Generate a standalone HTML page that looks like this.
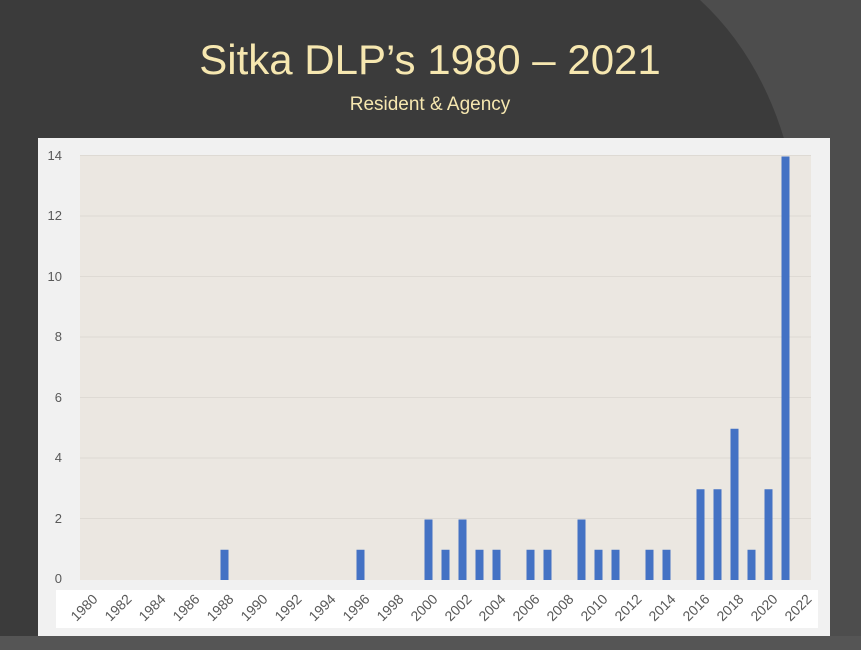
<!DOCTYPE html>
<html><head><meta charset="utf-8"><style>
body{margin:0;width:861px;height:650px;overflow:hidden;background:#3a3a3a;font-family:"Liberation Sans",sans-serif}
</style></head><body>
<svg width="861" height="650" xmlns="http://www.w3.org/2000/svg" style="position:absolute;left:0;top:0">
<rect width="861" height="650" fill="#3b3b3b"/>
<path d="M700,0 Q765,60 790,160 L815,650 L861,650 L861,0 Z" fill="#4d4d4d"/>
<rect x="0" y="636" width="861" height="14" fill="#555"/>
<text x="430" y="74" text-anchor="middle" font-family="Liberation Sans,sans-serif" font-size="42" fill="#f6e7b0">Sitka DLP’s 1980 – 2021</text>
<text x="430" y="110" text-anchor="middle" font-family="Liberation Sans,sans-serif" font-size="19" fill="#f6e7b0">Resident &amp; Agency</text>
<rect x="38" y="138" width="792" height="498" fill="#f1f1f1"/>
<rect x="80" y="155" width="731" height="425" fill="#ebe7e1"/>
<rect x="56" y="590" width="762" height="38" fill="#fff"/>
<g stroke="#dedad4" stroke-width="1">
<line x1="80" x2="811" y1="155.5" y2="155.5"/><line x1="80" x2="811" y1="216" y2="216"/><line x1="80" x2="811" y1="276.5" y2="276.5"/><line x1="80" x2="811" y1="337" y2="337"/><line x1="80" x2="811" y1="397.5" y2="397.5"/><line x1="80" x2="811" y1="458" y2="458"/><line x1="80" x2="811" y1="518.5" y2="518.5"/>
</g>
<g font-size="13" fill="#595959" text-anchor="end">
<text x="62" y="583">0</text><text x="62" y="523">2</text><text x="62" y="462">4</text><text x="62" y="402">6</text><text x="62" y="341">8</text><text x="62" y="281">10</text><text x="62" y="220">12</text><text x="62" y="160">14</text>
</g>
<g id="bars" fill="#4472c4"></g>
<g id="labs" font-size="14" fill="#595959"></g>
</svg>
<script>
var d={1988:1,1996:1,2000:2,2001:1,2002:2,2003:1,2004:1,2006:1,2007:1,2009:2,2010:1,2011:1,2013:1,2014:1,2016:3,2017:3,2018:5,2019:1,2020:3,2021:14};
var ns="http://www.w3.org/2000/svg",b=document.getElementById("bars"),l=document.getElementById("labs");
for(var y=1980;y<=2022;y++){var cx=88.5+(y-1980)*17;
if(d[y]){var r=document.createElementNS(ns,"rect");var h=d[y]*30.25;r.setAttribute("x",cx-4);r.setAttribute("width",8);r.setAttribute("y",580-h);r.setAttribute("height",h);b.appendChild(r);}
if(y%2==0){var t=document.createElementNS(ns,"text");t.setAttribute("text-anchor","end");t.setAttribute("transform","translate("+(cx+10)+",600) rotate(-45)");t.textContent=y;l.appendChild(t);}}
</script>
</body></html>
